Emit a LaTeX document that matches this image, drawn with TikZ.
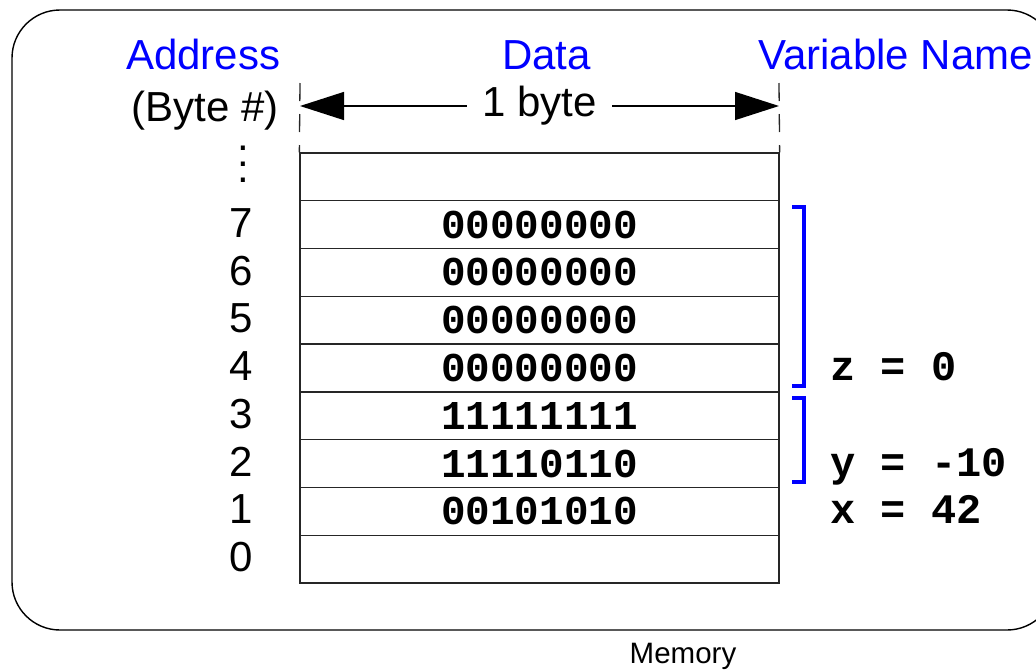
\documentclass[tikz,border=0pt]{standalone}
\usepackage{fontspec}
\setmainfont{Liberation Sans}
\setmonofont{Liberation Mono}
\usetikzlibrary{arrows.meta}
\definecolor{hdrblue}{RGB}{0,0,255}
\tikzset{
  big/.style={font=\fontsize{42}{48}\selectfont},
  hdr/.style={big, text=hdrblue, inner sep=0pt, anchor=base},
  cellbox/.style={draw=black!85, line width=1.3pt, minimum width=479pt, minimum height=47.78pt, inner sep=0pt,
    font=\fontsize{41}{46}\selectfont\ttfamily\bfseries},
  addr/.style={big, inner sep=0pt, anchor=base east},
  varlab/.style={font=\fontsize{42}{46}\selectfont\ttfamily\bfseries, inner sep=0pt, anchor=base west},
  brk/.style={draw=hdrblue, line width=3.5pt},
  extline/.style={draw=black!85, line width=1.3pt, dash pattern=on 18pt off 13pt},
  dimarrow/.style={draw=black, line width=1.4pt, {Triangle[length=44pt,width=28pt]}-{Triangle[length=44pt,width=28pt]}},
  dotn/.style={font=\fontsize{42}{16}\selectfont, align=center, inner sep=0pt, anchor=north}
}
\begin{document}
\begin{tikzpicture}[x=1pt,y=-1pt]
\useasboundingbox (0,0) rectangle (1036,670);
\clip (0,0) rectangle (1036,670);
% frame
\node[draw=black, line width=1.4pt, rounded corners=48pt, minimum width=1043pt, minimum height=620pt, inner sep=0pt] (frame) at (533.5,320) {};
\node[font=\fontsize{29.5}{34}\selectfont, inner sep=0pt, anchor=base] (memlab) at (683,663) {Memory};
% headers
\node[hdr] (haddr) at (203.3,69) {Address};
\node[hdr] (hdata) at (546.5,69) {Data};
\node[hdr, anchor=base west] (hvar) at (758,69) {Variable Name};
\node[big, inner sep=0pt, anchor=base] (hbyte) at (205,121) {(Byte \#)};
% cells
\node[cellbox] (c0) at (539.5,176.9) {};
\node[cellbox] (c1) at (539.5,224.7) {00000000};
\node[cellbox] (c2) at (539.5,272.4) {00000000};
\node[cellbox] (c3) at (539.5,320.2) {00000000};
\node[cellbox] (c4) at (539.5,368.0) {00000000};
\node[cellbox] (c5) at (539.5,415.8) {11111111};
\node[cellbox] (c6) at (539.5,463.6) {11110110};
\node[cellbox] (c7) at (539.5,511.4) {00101010};
\node[cellbox] (c8) at (539.5,559.1) {};
% extension lines
\coordinate (etl) at (300,83);
\coordinate (etr) at (779,83);
\draw[extline] (etl) -- (c0.north west);
\draw[extline] (etr) -- (c0.north east);
% dimension arrow
\coordinate (dl) at (300,106);
\coordinate (dr) at (779,106);
\draw[dimarrow] (dl) -- node[fill=white, big, inner xsep=15pt, inner ysep=1pt] (onebyte) {1 byte} (dr);
% vertical dots
\node[dotn] (vdots) at (243,145.6) {.\\.\\.};
% addresses
\node[addr] (a7) at (253,237.2) {7};
\node[addr] (a6) at (253,285.0) {6};
\node[addr] (a5) at (253,332.7) {5};
\node[addr] (a4) at (253,380.5) {4};
\node[addr] (a3) at (253,428.3) {3};
\node[addr] (a2) at (253,476.1) {2};
\node[addr] (a1) at (253,523.9) {1};
\node[addr] (a0) at (253,571.6) {0};
% brackets
\draw[brk] (792,207) -- (804,207) -- (804,386) -- (792,386);
\draw[brk] (792,398) -- (804,398) -- (804,482) -- (792,482);
% variable labels
\node[varlab] (vz) at (830,380.5) {z = 0};
\node[varlab] (vy) at (830,476.1) {y = -10};
\node[varlab] (vx) at (830,523.9) {x = 42};
\end{tikzpicture}
\end{document}
